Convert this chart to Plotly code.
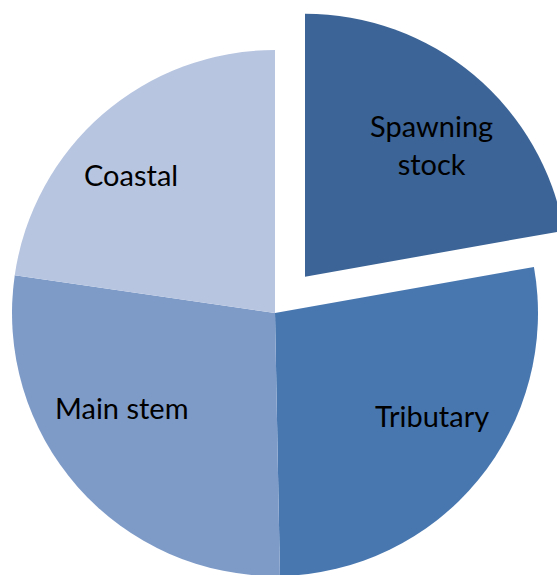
import plotly.graph_objects as go

# ---- data ----
categories = ["Spawning stock", "Tributary", "Main stem", "Coastal"]
values = [22.2, 27.5, 27.6, 22.7]
display_labels = ["Spawning<br>stock", "Tributary", "Main stem", "Coastal"]

# ---- styles / layout ----
colors = ["#3C6496", "#4877B0", "#7E9BC8", "#B7C5E0"]
W, H = 570, 580
R = 263
main_c = (275, 313)          # pixel centre of the un-pulled pie
pulled_c = (305, 276.7)      # pixel centre of the exploded slice

def dom(c, r):
    x0, x1 = (c[0] - r) / W, (c[0] + r) / W
    y0, y1 = 1 - (c[1] + r) / H, 1 - (c[1] - r) / H
    return dict(x=[max(0, x0), min(1, x1)], y=[max(0, y0), min(1, y1)])

fig = go.Figure()
# main body: all slices except the exploded one
fig.add_trace(go.Pie(
    labels=categories, values=values, sort=False, direction="clockwise", rotation=0,
    marker=dict(colors=["rgba(0,0,0,0)"] + colors[1:], line=dict(width=0)),
    textinfo="none", hoverinfo="label+value", domain=dom(main_c, R), showlegend=False,
))
# exploded slice
fig.add_trace(go.Pie(
    labels=categories, values=values, sort=False, direction="clockwise", rotation=0,
    marker=dict(colors=[colors[0]] + ["rgba(0,0,0,0)"] * 3, line=dict(width=0)),
    textinfo="none", hoverinfo="label+value", domain=dom(pulled_c, R), showlegend=False,
))

label_px = [(431, 144), (432, 415), (122, 407), (131, 174)]
for txt, (px, py) in zip(display_labels, label_px):
    fig.add_annotation(x=px / W, y=1 - py / H, xref="paper", yref="paper", text=txt,
                       showarrow=False, font=dict(family="Lato", size=29, color="black"),
                       xanchor="center", yanchor="middle")

fig.update_layout(width=W, height=H, margin=dict(l=0, r=0, t=0, b=0),
                  paper_bgcolor="white", plot_bgcolor="white")
fig.write_html("out.html", config={"displayModeBar": False},
               post_script="document.body.style.margin='0';document.body.style.overflow='hidden';")
